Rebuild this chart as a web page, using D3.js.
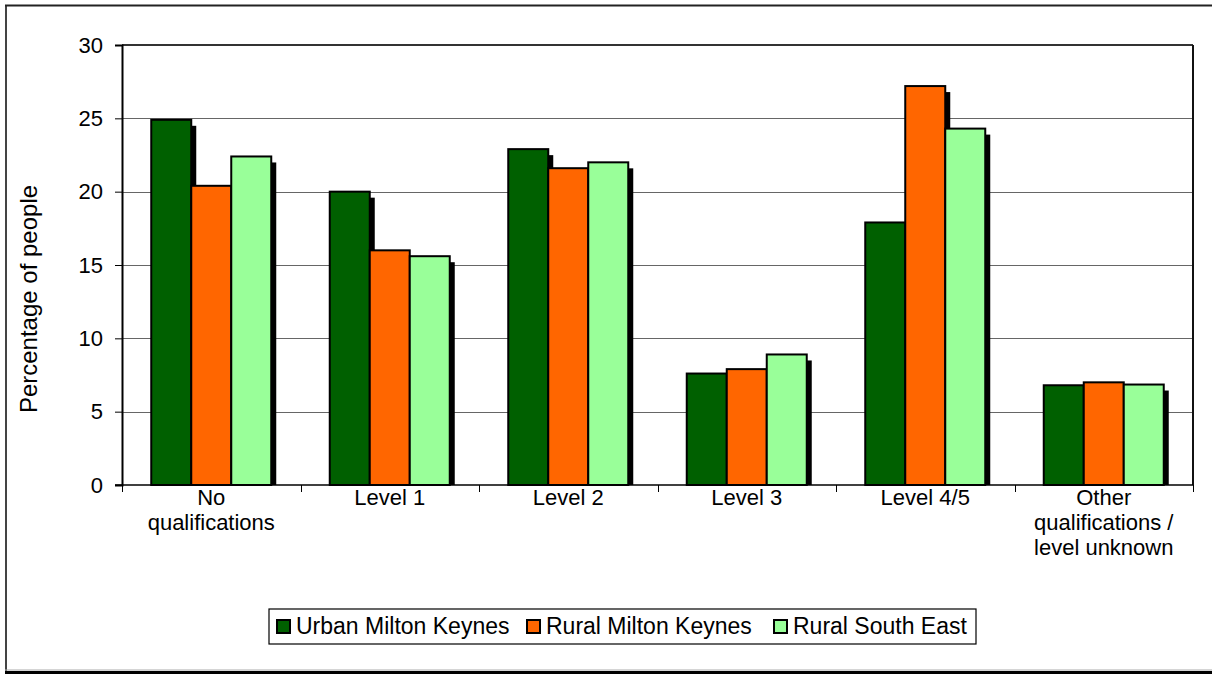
<!DOCTYPE html>
<html>
<head>
<meta charset="utf-8">
<script src="https://cdn.jsdelivr.net/npm/d3@7"></script>
<style>
  html, body { margin: 0; padding: 0; background: #fff; }
  svg { display: block; font-family: "Liberation Sans", Arial, sans-serif; }
</style>
</head>
<body>
<svg id="chart" width="1212" height="674"></svg>
<script>
const categories = [["No", "qualifications"], ["Level 1"], ["Level 2"], ["Level 3"], ["Level 4/5"], ["Other", "qualifications /", "level unknown"]];
const seriesNames = ["Urban Milton Keynes", "Rural Milton Keynes", "Rural South East"];
const urbanMK = [24.9, 20.0, 22.9, 7.6, 17.9, 6.8];
const ruralMK = [20.4, 16.0, 21.6, 7.9, 27.2, 7.0];
const ruralSE = [22.4, 15.6, 22.0, 8.9, 24.3, 6.85];
const yTicks = [0, 5, 10, 15, 20, 25, 30];
const colors = ["#006000", "#ff6600", "#99ff99"];

(function () {
const series = [urbanMK, ruralMK, ruralSE];
const svg = d3.select("#chart");

// outer frame
svg.append("line").attr("x1", 6).attr("x2", 6).attr("y1", 5).attr("y2", 672).attr("stroke", "#444").attr("stroke-width", 2);
svg.append("line").attr("x1", 5).attr("x2", 1212).attr("y1", 5.5).attr("y2", 5.5).attr("stroke", "#222").attr("stroke-width", 2);
svg.append("line").attr("x1", 5).attr("x2", 1212).attr("y1", 670).attr("y2", 670).attr("stroke", "#aaa").attr("stroke-width", 1);
svg.append("rect").attr("x", 5).attr("y", 671).attr("width", 1207).attr("height", 3).attr("fill", "#000");

const pL = 122, pR = 1193, pT = 45, pB = 485;
const x0 = d3.scaleBand().domain(d3.range(categories.length)).range([pL, pR]).paddingInner(0).paddingOuter(0);
const inner = 120;
const x1 = d3.scaleBand().domain(d3.range(series.length)).range([0, inner]);
const y = d3.scaleLinear().domain([0, 30]).range([pB, pT]);

// gridlines
svg.append("g").selectAll("line").data(yTicks.filter(t => t > 0 && t < 30)).join("line")
  .attr("x1", pL).attr("x2", pR)
  .attr("y1", d => Math.round(y(d)) + 0.5).attr("y2", d => Math.round(y(d)) + 0.5)
  .attr("stroke", "#666").attr("stroke-width", 1);

// plot frame top & right
svg.append("line").attr("x1", pL).attr("x2", pR).attr("y1", pT).attr("y2", pT).attr("stroke", "#333").attr("stroke-width", 2);
svg.append("line").attr("x1", pR).attr("x2", pR).attr("y1", pT).attr("y2", pB).attr("stroke", "#111").attr("stroke-width", 2);

const off = (x0.bandwidth() - inner) / 2;

// shadows
const shadowG = svg.append("g");
series.forEach((vals, si) => {
  shadowG.selectAll(null).data(vals).join("rect")
    .attr("x", (d, i) => x0(i) + off + x1(si) + 5)
    .attr("y", d => y(d) + 6)
    .attr("width", x1.bandwidth())
    .attr("height", d => pB - y(d) - 6)
    .attr("fill", "#000");
});

// bars
const barG = svg.append("g");
series.forEach((vals, si) => {
  barG.selectAll(null).data(vals).join("rect")
    .attr("x", (d, i) => x0(i) + off + x1(si))
    .attr("y", d => y(d))
    .attr("width", x1.bandwidth())
    .attr("height", d => pB - y(d))
    .attr("fill", colors[si])
    .attr("stroke", "#000").attr("stroke-width", 2);
});

// y axis
const yAxis = d3.axisLeft(y).tickValues(yTicks).tickSize(7).tickPadding(12).tickFormat(d3.format("d"));
const yg = svg.append("g").attr("transform", `translate(${pL},0)`).call(yAxis);
yg.select(".domain").attr("stroke", "#000").attr("stroke-width", 2);
yg.selectAll(".tick line").attr("stroke", "#000").attr("stroke-width", 1);
yg.selectAll(".tick text").attr("font-size", 22).attr("fill", "#000").attr("font-family", "Liberation Sans, Arial, sans-serif");

// x axis
const xg = svg.append("g").attr("transform", `translate(0,${pB})`);
xg.append("line").attr("x1", pL - 7).attr("x2", pR).attr("y1", 0).attr("y2", 0).attr("stroke", "#000").attr("stroke-width", 1.5);
xg.selectAll("line.tk").data(d3.range(categories.length + 1)).join("line").attr("class", "tk")
  .attr("x1", d => Math.round(pL + d * x0.step()) + 0.5).attr("x2", d => Math.round(pL + d * x0.step()) + 0.5)
  .attr("y1", 0).attr("y2", 7).attr("stroke", "#000");
const labels = xg.selectAll("text.cat").data(categories).join("text").attr("class", "cat")
  .attr("text-anchor", "middle").attr("font-size", 22).attr("fill", "#000");
labels.each(function(lines, i) {
  const t = d3.select(this);
  lines.forEach((ln, k) => {
    t.append("tspan").attr("x", x0(i) + x0.bandwidth() / 2).attr("y", 20 + k * 25).text(ln);
  });
});

// y title
svg.append("text").attr("transform", `translate(37,299) rotate(-90)`)
  .attr("text-anchor", "middle").attr("font-size", 24).attr("fill", "#000").text("Percentage of people");

// legend
const lg = svg.append("g");
lg.append("rect").attr("x", 269).attr("y", 609).attr("width", 707).attr("height", 35)
  .attr("fill", "#fff").attr("stroke", "#000").attr("stroke-width", 1.2);
const legendX = [277, 527, 774];
seriesNames.forEach((nm, i) => {
  lg.append("rect").attr("x", legendX[i]).attr("y", 620).attr("width", 13).attr("height", 13)
    .attr("fill", colors[i]).attr("stroke", "#000").attr("stroke-width", 2);
  lg.append("text").attr("x", legendX[i] + 19).attr("y", 634).attr("font-size", 23).attr("fill", "#000").text(nm);
});
})();
</script>
</body>
</html>
